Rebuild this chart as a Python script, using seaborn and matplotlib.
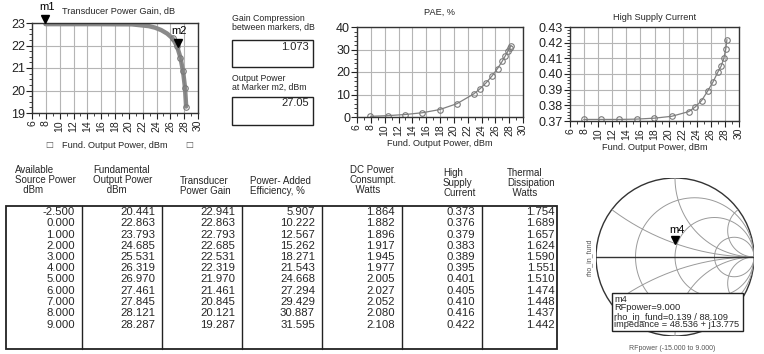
import numpy as np
import matplotlib
matplotlib.use("Agg")
import matplotlib.pyplot as plt
import matplotlib.transforms as mtransforms
from matplotlib.patches import Rectangle, Circle
import seaborn as sns

# ---- data: power sweep table ----
src_power = [-2.5, 0.0, 1.0, 2.0, 3.0, 4.0, 5.0, 6.0, 7.0, 8.0, 9.0]
out_power = [20.441, 22.863, 23.793, 24.685, 25.531, 26.319, 26.970, 27.461, 27.845, 28.121, 28.287]
gain = [22.941, 22.863, 22.793, 22.685, 22.531, 22.319, 21.970, 21.461, 20.845, 20.121, 19.287]
pae = [5.907, 10.222, 12.567, 15.262, 18.271, 21.543, 24.668, 27.294, 29.429, 30.887, 31.595]
dc_power = [1.864, 1.882, 1.896, 1.917, 1.945, 1.977, 2.005, 2.027, 2.052, 2.080, 2.108]
supply_current = [0.373, 0.376, 0.379, 0.383, 0.389, 0.395, 0.401, 0.405, 0.410, 0.416, 0.422]
thermal = [1.754, 1.689, 1.657, 1.624, 1.590, 1.551, 1.510, 1.474, 1.448, 1.437, 1.442]

# low drive part of the sweep
low_out = [7.95, 10.45, 12.95, 15.45, 17.95]
low_gain = [22.95, 22.95, 22.95, 22.95, 22.945]
low_pae = [0.3, 0.6, 1.1, 1.9, 3.3]
low_current = [0.371, 0.371, 0.371, 0.3712, 0.3718]

# markers
m1 = (7.95, 22.95)
m2 = (27.05, 21.88)
gain_compression = 1.073
pout_m2 = 27.05
m4_mag, m4_ang = 0.139, 88.109
m4_rfpower = 9.000
m4_impedance = "48.536 + j13.775"

headers = [
    "Available\nSource Power\n   dBm",
    "Fundamental\nOutput Power\n     dBm",
    "Transducer\nPower Gain",
    "Power- Added\nEfficiency, %",
    "DC Power\nConsumpt.\n  Watts",
    "High\nSupply\nCurrent",
    "Thermal\nDissipation\n  Watts",
]

# ---- figure ----
sns.set_theme(style="white")
plt.rcParams['font.family'] = ['Liberation Sans', 'DejaVu Sans']

W, H = 764, 354
fig = plt.figure(figsize=(W / 100, H / 100), dpi=100)
fig.patch.set_facecolor('white')

ov = fig.add_axes([0, 0, 1, 1])
ov.set_xlim(0, W)
ov.set_ylim(H, 0)
ov.axis('off')


def px_axes(x0, y0, x1, y1):
    return fig.add_axes([x0 / W, 1 - y1 / H, (x1 - x0) / W, (y1 - y0) / H])


grid_c = '#b5b5b5'
line_c = '#808080'
title_fs = 6.6


def style_plot(ax, ylim, yticks, yminor, fmt):
    ax.set_xlim(6, 30)
    ax.set_xticks(range(6, 31, 2))
    ax.set_xticks(range(6, 31, 1), minor=True)
    ax.set_ylim(*ylim)
    ax.set_yticks(yticks)
    ax.set_yticks(yminor, minor=True)
    ax.set_yticklabels([fmt.format(v) for v in yticks])
    ax.grid(True, which='major', color=grid_c, lw=0.8)
    ax.tick_params(axis='x', which='major', labelrotation=90, labelsize=7.5,
                   length=4, width=0.8, direction='out', pad=1, colors='#222222')
    ax.tick_params(axis='y', which='major', labelsize=9, length=4, width=0.8,
                   direction='out', pad=1, colors='#222222')
    ax.tick_params(which='minor', length=2, width=0.6, direction='out', colors='#222222')
    ax.tick_params(axis='x', which='minor', bottom=True)
    ax.tick_params(axis='y', which='minor', left=True)
    ax.tick_params(bottom=True, left=True)
    for s in ax.spines.values():
        s.set_color('#333333')
        s.set_linewidth(1.0)
    ax.set_xlabel('')
    ax.set_ylabel('')


def tri_marker(ax, xy, name, dy_label=9):
    trans = mtransforms.offset_copy(ax.transData, fig=fig, x=0, y=4, units='points')
    ax.plot([xy[0]], [xy[1]], marker='v', color='black', markersize=6,
            transform=trans, clip_on=False, zorder=6)
    ax.annotate(name, xy=xy, xytext=(1, dy_label), textcoords='offset points',
                ha='center', va='bottom', fontsize=8, color='black',
                annotation_clip=False, zorder=6)


# gain plot
ax1 = px_axes(32, 23, 198, 113)
x_all = low_out + out_power
sns.lineplot(x=x_all, y=low_gain + gain, ax=ax1, color='#8a8a8a', lw=3.2,
             estimator=None, sort=False)
sns.lineplot(x=out_power[5:], y=gain[5:], ax=ax1, color=line_c, lw=0.8,
             marker='o', markersize=4, markerfacecolor='none',
             markeredgecolor='#7a7a7a', markeredgewidth=0.8, estimator=None, sort=False)
style_plot(ax1, (19, 23), range(19, 24), np.arange(19, 23.01, 0.25), '{:d}')
tri_marker(ax1, m1, 'm1')
tri_marker(ax1, m2, 'm2')
ov.text(119, 11, 'Transducer Power Gain, dB', ha='center', va='center', fontsize=title_fs)
ov.text(49, 145, '\u25A1', ha='center', va='center', fontsize=6, color='#555555',
        family=['DejaVu Sans'])
ov.text(189, 145, '\u25A1', ha='center', va='center', fontsize=6, color='#555555',
        family=['DejaVu Sans'])
ov.text(115, 145, 'Fund. Output Power, dBm', ha='center', va='center', fontsize=title_fs)

# gain compression boxes
ov.text(232, 23, 'Gain Compression\nbetween markers, dB', ha='left', va='center',
        fontsize=6.3, linespacing=0.95)
ov.add_patch(Rectangle((232, 40), 81, 27, fill=False, ec='#222222', lw=1.0))
ov.text(309, 47, f'{gain_compression:.3f}', ha='right', va='center', fontsize=8)
ov.text(232, 83, 'Output Power\nat Marker m2, dBm', ha='left', va='center',
        fontsize=6.3, linespacing=0.95)
ov.add_patch(Rectangle((232, 97), 81, 28, fill=False, ec='#222222', lw=1.0))
ov.text(309, 103, f'{pout_m2:.2f}', ha='right', va='center', fontsize=8)

# PAE plot
ax2 = px_axes(357, 27, 523, 117)
sns.lineplot(x=x_all, y=low_pae + pae, ax=ax2, color=line_c, lw=0.9,
             marker='o', markersize=4, markerfacecolor='none',
             markeredgecolor='#7a7a7a', markeredgewidth=0.8, estimator=None, sort=False)
style_plot(ax2, (0, 40), range(0, 41, 10), range(0, 41, 2), '{:d}')
ov.text(440, 12, 'PAE, %', ha='center', va='center', fontsize=title_fs)
ov.text(440, 143, 'Fund. Output Power, dBm', ha='center', va='center', fontsize=title_fs)

# high supply current plot
ax3 = px_axes(570, 27, 739, 121)
sns.lineplot(x=x_all, y=low_current + supply_current, ax=ax3, color=line_c, lw=0.9,
             marker='o', markersize=4, markerfacecolor='none',
             markeredgecolor='#7a7a7a', markeredgewidth=0.8, estimator=None, sort=False)
style_plot(ax3, (0.37, 0.43), np.round(np.arange(0.37, 0.4301, 0.01), 2),
           np.arange(0.37, 0.4301, 0.002), '{:.2f}')
ov.text(655, 17, 'High Supply Current', ha='center', va='center', fontsize=title_fs)
ov.text(655, 147, 'Fund. Output Power, dBm', ha='center', va='center', fontsize=title_fs)

# ---- table ----
dividers = [6, 82, 162, 242, 322, 402, 482, 557]
col_right = [75, 155, 235, 315, 395, 475, 555]
head_left = [15, 93, 180, 250, 350, 443, 507]
head_y = [180, 180, 186, 186, 180, 183, 183]
ov.add_patch(Rectangle((6, 206), 551, 143, fill=False, ec='#222222', lw=1.3))
for xd in dividers[1:-1]:
    ov.plot([xd, xd], [206, 349], color='#222222', lw=1.0)
for i, h in enumerate(headers):
    ov.text(head_left[i], head_y[i], h, ha='left', va='center', fontsize=7,
            linespacing=0.95)
columns = [src_power, out_power, gain, pae, dc_power, supply_current, thermal]
for c, vals in enumerate(columns):
    for r, v in enumerate(vals):
        ov.text(col_right[c], 212 + r * 11.25, f'{v:.3f}', ha='right', va='center',
                fontsize=8.2)

# ---- Smith chart ----
ax4 = px_axes(596, 178, 754, 336)
ax4.set_xlim(-1.0, 1.0)
ax4.set_ylim(-1.0, 1.0)
ax4.set_aspect('equal')
ax4.axis('off')
t = np.linspace(0, 2 * np.pi, 400)
clip = Circle((0, 0), 1, transform=ax4.transData)
for r in [1 / 3, 1.0, 3.0]:
    cx, rad = r / (1 + r), 1 / (1 + r)
    ln, = ax4.plot(cx + rad * np.cos(t), rad * np.sin(t), color='#9a9a9a', lw=0.7)
    ln.set_clip_path(clip)
for xr in [1 / 3, 1.0, 3.0]:
    for sgn in (1, -1):
        ln, = ax4.plot(1 + np.cos(t) / xr, sgn / xr + np.sin(t) / xr,
                       color='#9a9a9a', lw=0.7)
        ln.set_clip_path(clip)
ax4.add_patch(Circle((0, 0), 1, fill=False, ec='#333333', lw=1.0))
ax4.plot([-1, 1], [0, 0], color='#333333', lw=1.0)
gx = m4_mag * np.cos(np.deg2rad(m4_ang))
gy = m4_mag * np.sin(np.deg2rad(m4_ang))
tri_marker(ax4, (gx, gy), 'm4', dy_label=8)
ov.text(589, 257, 'rho_in_fund', rotation=90, ha='center', va='center',
        fontsize=5, color='#555555')
ov.text(672, 349, 'RFpower (-15.000 to 9.000)', ha='center', va='center',
        fontsize=5, color='#555555')
ov.add_patch(Rectangle((612, 293), 131, 38, fc='white', ec='#222222', lw=1.0, zorder=5))
ov.text(614, 312, f'm4\nRFpower={m4_rfpower:.3f}\n'
        f'rho_in_fund={m4_mag:.3f} / {m4_ang:.3f}\nimpedance = {m4_impedance}',
        ha='left', va='center', fontsize=6.7, linespacing=0.95, zorder=6)
ov.set_zorder(3)
ov.patch.set_alpha(0)

fig.savefig('out.png', dpi=100, facecolor='white')
